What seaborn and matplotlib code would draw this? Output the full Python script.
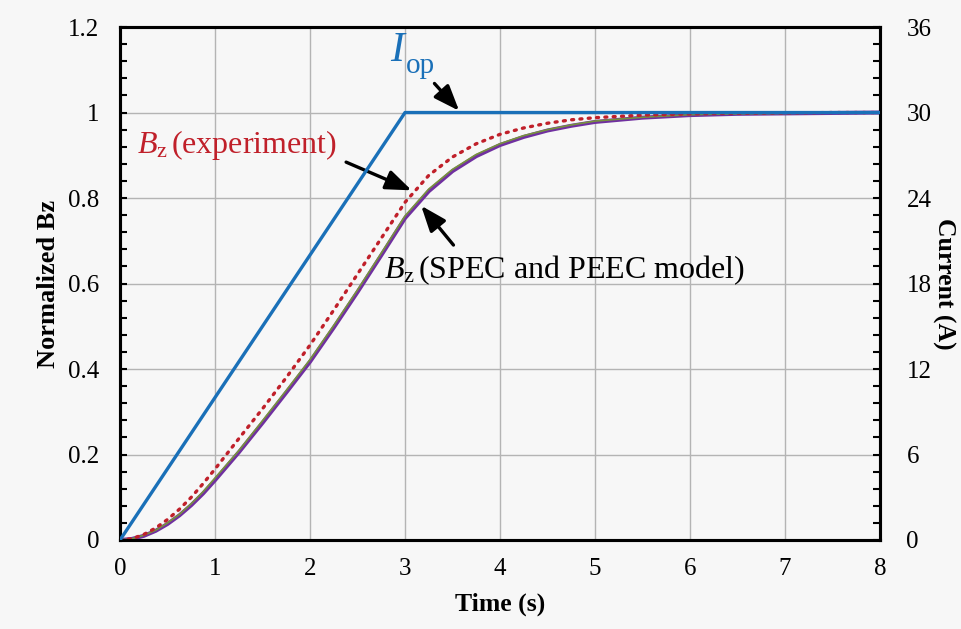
import matplotlib
matplotlib.use("Agg")
import matplotlib.pyplot as plt
import seaborn as sns
import pandas as pd
import numpy as np

# ---- data ----
t_bz = [0, 0.125, 0.25, 0.375, 0.5, 0.625, 0.75, 0.875, 1.0, 1.25, 1.5, 1.75, 2.0,
        2.25, 2.5, 2.75, 3.0, 3.25, 3.5, 3.75, 4.0, 4.25, 4.5, 4.75, 5.0, 5.5,
        6.0, 6.5, 7.0, 7.5, 8.0]
bz_experiment = [0, 0.003, 0.013, 0.028, 0.048, 0.072, 0.100, 0.132, 0.166, 0.237,
                 0.307, 0.380, 0.456, 0.538, 0.622, 0.706, 0.790, 0.853, 0.896,
                 0.927, 0.949, 0.964, 0.975, 0.983, 0.988, 0.994, 0.997, 0.998,
                 0.999, 1.0, 1.0]
bz_spec = [0, 0.003, 0.011, 0.023, 0.040, 0.060, 0.085, 0.113, 0.145, 0.209, 0.279,
           0.350, 0.422, 0.502, 0.585, 0.671, 0.758, 0.821, 0.867, 0.902, 0.927,
           0.946, 0.960, 0.971, 0.980, 0.989, 0.995, 0.997, 0.998, 0.999, 1.0]
bz_peec = [0, 0.0025, 0.0097, 0.0214, 0.0375, 0.0576, 0.0816, 0.109, 0.140, 0.205,
           0.274, 0.345, 0.417, 0.497, 0.580, 0.666, 0.753, 0.816, 0.863, 0.898,
           0.924, 0.943, 0.958, 0.969, 0.978, 0.988, 0.994, 0.997, 0.998, 0.999, 1.0]
t_iop = [0, 3, 8]
i_op = [0, 30, 30]  # A

x_ticks = [0, 1, 2, 3, 4, 5, 6, 7, 8]
y_ticks = [0, 0.2, 0.4, 0.6, 0.8, 1.0, 1.2]
y_ticklabels = ["0", "0.2", "0.4", "0.6", "0.8", "1", "1.2"]
y2_ticks = [0, 6, 12, 18, 24, 30, 36]

sns.set_theme(style="white")
plt.rcParams["font.family"] = ["Liberation Serif", "DejaVu Serif"]
plt.rcParams["mathtext.fontset"] = "custom"
plt.rcParams["mathtext.rm"] = "Liberation Serif"
plt.rcParams["mathtext.it"] = "Liberation Serif:italic"
plt.rcParams["text.color"] = "black"
plt.rcParams["axes.labelcolor"] = "black"

bg = "#f7f7f7"
fig = plt.figure(figsize=(9.61, 6.29), dpi=100, facecolor=bg)
ax = fig.add_axes([0.1249, 0.1415, 0.7908, 0.8155])
ax.set_facecolor(bg)
ax2 = ax.twinx()

df = pd.DataFrame({"t": t_bz, "exp": bz_experiment, "spec": bz_spec, "peec": bz_peec})

sns.lineplot(data=df, x="t", y="peec", ax=ax, color="#7030a0", lw=2.9, zorder=3)
sns.lineplot(data=df, x="t", y="spec", ax=ax, color="#77933c", lw=1.2, zorder=4)
sns.lineplot(data=df, x="t", y="exp", ax=ax, color="#c0202a", lw=2.4, zorder=5,
             linestyle=(0, (0.6, 1.9)))
ax.lines[-1].set_dash_capstyle("round")

sns.lineplot(x=t_iop, y=i_op, ax=ax2, color="#1a70b8", lw=2.4, zorder=6)

ax.set_xlim(0, 8)
ax.set_ylim(0, 1.2)
ax2.set_ylim(0, 36)
ax.set_xticks(x_ticks)
ax.set_xticklabels([str(v) for v in x_ticks])
ax.set_yticks(y_ticks)
ax.set_yticklabels(y_ticklabels)
ax2.set_yticks(y2_ticks)
ax2.set_yticklabels([str(v) for v in y2_ticks])
ax.set_yticks(np.arange(0, 1.2001, 0.04), minor=True)
ax2.set_yticks(np.arange(0, 36.001, 1.2), minor=True)

ax.grid(True, which="major", color="#b4b4b4", lw=1.0)
ax.set_axisbelow(True)

for a in (ax, ax2):
    for s in a.spines.values():
        s.set_color("black")
        s.set_linewidth(2.2)
        s.set_visible(True)

ax.tick_params(axis="y", which="both", direction="in", length=5, width=1.5,
               color="black", labelsize=18, labelcolor="black", pad=15, left=True)
ax2.tick_params(axis="y", which="both", direction="in", length=5, width=1.5,
                color="black", labelsize=18, labelcolor="black", pad=19, right=True)
ax.tick_params(axis="x", which="both", length=0, labelsize=18, pad=13, labelcolor="black")

ax.set_xlabel("Time (s)", fontsize=18.5, fontweight="bold", labelpad=9)
ax.set_ylabel("Normalized Bz", fontsize=19, fontweight="bold", labelpad=6)
ax2.set_ylabel("Current (A)", fontsize=18.5, fontweight="bold", rotation=270,
               va="center", ha="center")
ax2.yaxis.set_label_coords(1.083, 0.5)

arrow_kw = dict(arrowstyle="-|>,head_length=1.3,head_width=0.5", color="black", lw=2.4,
                shrinkA=0, shrinkB=0)

# I_op label
ax.text(2.84, 1.12, r"$\mathit{I}$", color="#1a70b8", fontsize=30, ha="left", va="baseline")
ax.text(3.01, 1.092, "op", color="#1a70b8", fontsize=21, ha="left", va="baseline")
ax.annotate("", xy=(3.57, 1.004), xytext=(3.31, 1.068), arrowprops=arrow_kw)

ax.text(0.18, 0.905, r"$\mathit{B}_{\mathrm{z}}\,$(experiment)", color="#c0202a", fontsize=23,
        ha="left", va="baseline")
ax.annotate("", xy=(3.07, 0.818), xytext=(2.38, 0.884), arrowprops=arrow_kw)

ax.text(2.78, 0.613, r"$\mathit{B}_{\mathrm{z}}\,$(SPEC and PEEC model)", color="black", fontsize=23,
        ha="left", va="baseline")
ax.annotate("", xy=(3.17, 0.782), xytext=(3.51, 0.69), arrowprops=arrow_kw)

fig.savefig("out.png", dpi=100, facecolor=bg)
